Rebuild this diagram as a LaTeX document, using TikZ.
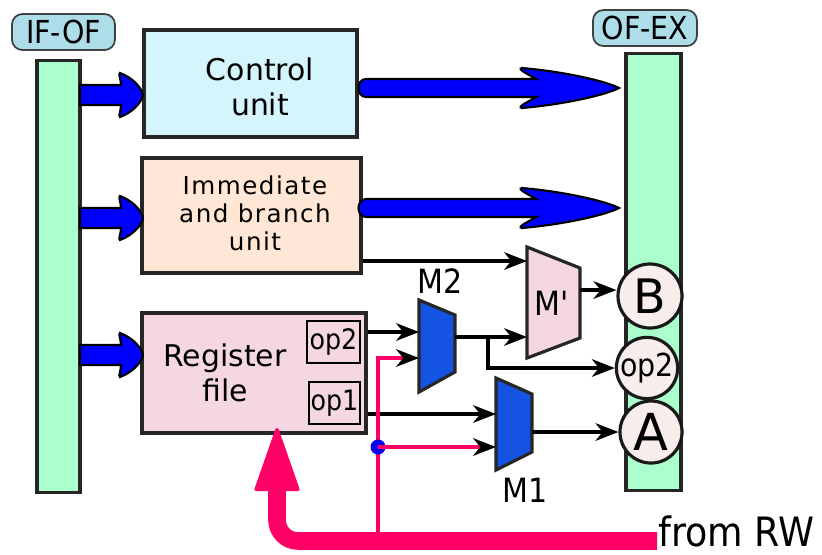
\documentclass[tikz,border=0pt]{standalone}
\usepackage{fontspec}
\setmainfont{DejaVu Sans}
\newfontfamily\condfont{DejaVu Sans Condensed}
\newfontfamily\widefont[LetterSpace=6]{DejaVu Sans}
\usetikzlibrary{arrows.meta}
\definecolor{barcol}{HTML}{AAFFCC}
\definecolor{tagcol}{HTML}{ADDDE8}
\definecolor{ctrlcol}{HTML}{D5F5FC}
\definecolor{immcol}{HTML}{FFE6D5}
\definecolor{regcol}{HTML}{F4D7E3}
\definecolor{muxcol}{HTML}{1553E3}
\definecolor{rwcol}{HTML}{FF0066}
\definecolor{circcol}{HTML}{F7EEEB}
\definecolor{fatblue}{HTML}{0000FF}
\definecolor{dotblue}{HTML}{0000EE}
\tikzset{
  tag/.style={draw=black!75, line width=.5pt, fill=tagcol, rounded corners=3pt,
    minimum height=.36cm, inner sep=0pt, font=\condfont\fontsize{9}{10}\selectfont},
  latch/.style={draw=black!85, line width=.9pt, fill=barcol, inner sep=0pt},
  unit/.style={draw=black!85, line width=.9pt, inner sep=0pt},
  unittext/.style={align=center, inner sep=0pt, font=\fontsize{8.5}{10}\selectfont},
  regbox/.style={draw, line width=.6pt, fill=regcol, inner sep=0pt, minimum height=.42cm,
    font=\condfont\fontsize{8}{9}\selectfont},
  mux/.style={draw=black!85, line width=.9pt, fill=muxcol},
  muxname/.style={inner sep=0pt, font=\condfont\fontsize{9.5}{10}\selectfont},
  opnd/.style={circle, draw=black!90, line width=.9pt, fill=circcol, inner sep=0pt},
  wire/.style={line width=.9pt, -{Stealth[length=6.5pt,width=5pt,inset=2pt]}},
  rwwire/.style={rwcol, line width=.9pt, -{Stealth[length=6.5pt,width=5pt,inset=2pt,color=black]}},
  fatarrow/.style={draw=black, line width=.6pt, fill=fatblue},
}
\begin{document}
\begin{tikzpicture}[x=0.01cm,y=-0.01cm]
\useasboundingbox (0,0) rectangle (822,554);
% pipeline registers
\node[tag, minimum width=1.03cm] (ifoftag) at (63.5,32) {IF-OF};
\node[latch, minimum width=.43cm, minimum height=4.31cm] (ifof) at (58.5,276.5) {};
\node[tag, minimum width=1.04cm] (ofextag) at (645,28) {OF-EX};
\node[latch, minimum width=.55cm, minimum height=4.36cm] (ofex) at (653.5,272) {};
% units
\node[unit, fill=ctrlcol, minimum width=2.13cm, minimum height=1.07cm] (ctrl) at (250.5,83.5) {};
\node[unittext] (ctrltxt) at (260,87) {Control\\unit};
\node[unit, fill=immcol, minimum width=2.19cm, minimum height=1.15cm] (imm) at (251.5,215.5) {};
\node[unittext, font=\widefont\fontsize{7}{8}\selectfont] (immtxt) at (255,213) {Immediate\\and branch\\unit};
\node[unit, fill=regcol, minimum width=2.24cm, minimum height=1.20cm] (regfile) at (254,373) {};
\node[unittext] (regtxt) at (225,373) {Register\\file};
\node[regbox, minimum width=.53cm] (optwo) at (333.5,342) {op2};
\node[regbox, minimum width=.51cm] (opone) at (334.5,403) {op1};
% fat arrows into the units
\foreach \yc in {95,218,355}
  \draw[fatarrow] (80,\yc-10) -- (121,\yc-10) .. controls (121,\yc-16) and (118,\yc-21) .. (120,\yc-22)
    .. controls (133,\yc-17) and (141,\yc-8) .. (143,\yc) .. controls (141,\yc+8) and (133,\yc+17) .. (120,\yc+22)
    .. controls (118,\yc+21) and (121,\yc+16) .. (121,\yc+10) -- (80,\yc+10) -- cycle;
\foreach \yc in {88,208}
  \draw[fatarrow] (366,\yc-9) -- (536,\yc-9) .. controls (530,\yc-13) and (516,\yc-19) .. (522,\yc-20)
    .. controls (568,\yc-16) and (608,\yc-6) .. (619,\yc) .. controls (608,\yc+6) and (568,\yc+16) .. (522,\yc+20)
    .. controls (516,\yc+19) and (530,\yc+13) .. (536,\yc+9) -- (366,\yc+9)
    .. controls (356,\yc+9) and (356,\yc-9) .. (366,\yc-9) -- cycle;
% multiplexers
\draw[mux] (419,300) -- (455,315) -- (455,372) -- (419,392) -- cycle;
\coordinate (mtwo-a) at (419,332); \coordinate (mtwo-b) at (419,358); \coordinate (mtwo-o) at (455,337);
\node[muxname] (mtwotxt) at (440,281) {M2};
\draw[mux, fill=regcol] (527,247) -- (580,268) -- (580,338) -- (527,358) -- cycle;
\coordinate (mpr-a) at (527,261); \coordinate (mpr-b) at (527,337); \coordinate (mpr-o) at (580,290);
\node[muxname] (mprtxt) at (552,303) {M'};
\draw[mux] (496,378) -- (532,394) -- (532,452) -- (496,470) -- cycle;
\coordinate (mone-a) at (496,414); \coordinate (mone-b) at (496,447); \coordinate (mone-o) at (532,432);
\node[muxname] (monetxt) at (525,490) {M1};
% operands latched into OF-EX
\node[opnd, minimum size=.64cm, font=\fontsize{13.5}{14}\selectfont] (cB) at (650,296) {B};
\node[opnd, minimum size=.58cm, font=\condfont\fontsize{9}{10}\selectfont] (cop) at (647,368) {op2};
\node[opnd, minimum size=.62cm, font=\fontsize{14.5}{15}\selectfont] (cA) at (651,432) {A};
% data wires
\draw[wire] (imm.east |- mpr-a) -- (mpr-a);
\draw[wire] (regfile.east |- mtwo-a) -- (mtwo-a);
\draw[wire] (regfile.east |- mone-a) -- (mone-a);
\draw[wire] (mtwo-o) -- (mpr-b);
\coordinate (brk) at (488,337);
\draw[wire] (brk) |- (cop.west);
\draw[wire] (mpr-o) -- (mpr-o -| cB.west);
\draw[wire] (mone-o) -- (cA.west);
% write-back path
\node[inner sep=0pt, anchor=base west, font=\condfont\fontsize{11.5}{12}\selectfont] (rw) at (658,546) {from RW};
\coordinate (rwbus) at (657,541);
\coordinate (rwtip) at (277,428);
\draw[rwcol, line width=5pt, rounded corners=6pt,
  -{Triangle[length=19pt,width=13pt,line width=1pt,round]}] (rwbus) -| (rwtip);
\coordinate (rwtap) at (378,534);
\draw[rwwire] (rwtap) |- (mtwo-b);
\node[circle, fill=dotblue, minimum size=.15cm, inner sep=0pt] (tap) at (378,447) {};
\draw[rwwire] (tap.center) -- (mone-b);
\end{tikzpicture}
\end{document}
